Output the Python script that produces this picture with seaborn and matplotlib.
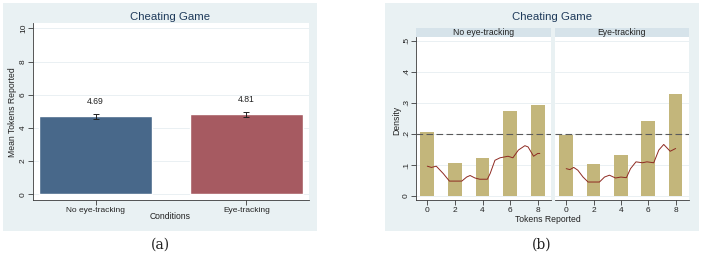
import numpy as np
import pandas as pd
import matplotlib
matplotlib.use("Agg")
import matplotlib.pyplot as plt
import seaborn as sns
from matplotlib.patches import Rectangle

sns.set_theme(style="white")
plt.rcParams['font.family'] = ['Liberation Sans', 'DejaVu Sans']

# ---------------- data ----------------
conditions = ["No eye-tracking", "Eye-tracking"]
mean_tokens = [4.69, 4.81]
mean_se = [0.14, 0.14]

tokens = [0, 2, 4, 6, 8]
density_no = [0.205, 0.105, 0.123, 0.275, 0.292]
density_eye = [0.198, 0.102, 0.131, 0.242, 0.330]
uniform_density = 0.2

curve_no_x = [0.0, 0.3, 0.65, 1.16, 1.6, 2.0, 2.5, 2.85, 3.1, 3.45, 3.8, 4.35, 4.55, 4.9, 5.27, 5.85, 6.2, 6.6, 7.07, 7.3, 7.7, 8.0, 8.15]
curve_no_y = [0.096, 0.092, 0.096, 0.072, 0.048, 0.048, 0.048, 0.061, 0.066, 0.058, 0.054, 0.054, 0.072, 0.115, 0.123, 0.128, 0.123, 0.148, 0.162, 0.158, 0.128, 0.137, 0.137]
curve_eye_x = [0.0, 0.27, 0.55, 0.85, 1.23, 1.6, 1.95, 2.43, 2.8, 3.16, 3.6, 4.0, 4.4, 4.7, 5.1, 5.57, 5.9, 6.4, 6.77, 7.13, 7.6, 8.0]
curve_eye_y = [0.088, 0.085, 0.092, 0.083, 0.061, 0.045, 0.045, 0.045, 0.061, 0.067, 0.058, 0.061, 0.059, 0.088, 0.110, 0.107, 0.110, 0.107, 0.148, 0.166, 0.144, 0.153]

# ---------------- style ----------------
BG = "#E9F1F3"
STRIP = "#D6E3EA"
GRID = "#E6EEF1"
BAR_COLORS = ["#48688A", "#A65A61"]
KHAKI = "#C3B67B"
CURVE = "#8E2A22"
AXC = "#3A3A3A"

W, H = 702, 256
fig = plt.figure(figsize=(W / 100, H / 100), dpi=100)
fig.patch.set_facecolor("white")


def box(x0, y0, x1, y1):
    return [x0 / W, 1 - y1 / H, (x1 - x0) / W, (y1 - y0) / H]


def fig_rect(x0, y0, x1, y1, color):
    fig.patches.append(Rectangle((x0 / W, 1 - y1 / H), (x1 - x0) / W, (y1 - y0) / H,
                                 transform=fig.transFigure, facecolor=color,
                                 edgecolor="none", zorder=-5))


def ftext(x, y, s, **kw):
    kw.setdefault("ha", "center")
    kw.setdefault("va", "center")
    kw.setdefault("color", "#222222")
    fig.text(x / W, 1 - y / H, s, **kw)


# backgrounds
fig_rect(3, 3, 317, 231, BG)
fig_rect(385, 3, 699, 231, BG)


def style_axis(ax, left=True):
    ax.set_facecolor("white")
    for s in ["top", "right"]:
        ax.spines[s].set_visible(False)
    ax.spines["bottom"].set_color(AXC)
    ax.spines["bottom"].set_linewidth(0.6)
    if left:
        ax.spines["left"].set_color(AXC)
        ax.spines["left"].set_linewidth(0.6)
    else:
        ax.spines["left"].set_visible(False)
    ax.tick_params(axis="both", which="major", length=3.8, width=0.6, color=AXC,
                   labelsize=6, pad=1.2, labelcolor="#222222",
                   bottom=True, left=left, direction="out")
    ax.tick_params(axis="y", pad=0.6)


# ---------------- panel (a) ----------------
axa = fig.add_axes(box(33, 23, 309, 200))
dfa = pd.DataFrame({"cond": conditions, "mean": mean_tokens})
sns.barplot(data=dfa, x="cond", y="mean", hue="cond", palette=BAR_COLORS,
            width=0.75, errorbar=None, legend=False, ax=axa, saturation=1,
            zorder=2)
axa.errorbar(range(len(conditions)), mean_tokens, yerr=mean_se, fmt="none",
             ecolor="#222222", elinewidth=0.7, capsize=2, capthick=0.7, zorder=3)
for i, (m, s) in enumerate(zip(mean_tokens, mean_se)):
    axa.annotate(f"{m:.2f}", (i, m + s), xytext=(0, 9), textcoords="offset points",
                 ha="center", va="center", fontsize=6.2, color="#222222")
axa.set_ylim(-0.343, 10.32)
axa.set_xlim(-0.414, 1.414)
axa.set_yticks(range(0, 11, 2))
axa.set_yticklabels([str(v) for v in range(0, 11, 2)], rotation=90, va="center")
axa.yaxis.grid(True, color=GRID, linewidth=0.6, zorder=0)
axa.set_axisbelow(True)
style_axis(axa)
axa.set_xlabel("")
axa.set_ylabel("")
ftext(170, 216.5, "Conditions", fontsize=6.2)
ftext(13, 112, "Mean Tokens Reported", rotation=90, fontsize=6.2)
ftext(170, 17, "Cheating Game", fontsize=8.2, color="#1E3A5A")
ftext(160, 245, "(a)", fontsize=10, family="DejaVu Serif")

# ---------------- panel (b) ----------------
panels = [
    ("No eye-tracking", density_no, curve_no_x, curve_no_y, 416, 550.7, True),
    ("Eye-tracking", density_eye, curve_eye_x, curve_eye_y, 555, 688.5, False),
]
for title, dens, cx, cy, x0, x1, first in panels:
    ax = fig.add_axes(box(x0, 37, x1, 200))
    dfb = pd.DataFrame({"tokens": tokens, "density": dens})
    sns.barplot(data=dfb, x="tokens", y="density", native_scale=True,
                color=KHAKI, saturation=1, width=0.5, errorbar=None, ax=ax,
                zorder=2)
    for p in ax.patches:
        p.set_edgecolor(KHAKI)
        p.set_linewidth(0)
    ax.axhline(uniform_density, color="#5A5A5A", linewidth=0.8,
               dashes=(6, 3), zorder=3)
    sns.lineplot(x=cx, y=cy, sort=False, color=CURVE, linewidth=0.7, ax=ax,
                 zorder=4)
    ax.set_xlim(-0.82, 8.94)
    ax.set_ylim(-0.0129, 0.512)
    ax.set_xticks(tokens)
    ax.set_xticklabels([str(t) for t in tokens])
    yt = [0, 0.1, 0.2, 0.3, 0.4, 0.5]
    ax.set_yticks(yt)
    ax.set_yticklabels(["0", ".1", ".2", ".3", ".4", ".5"], rotation=90, va="center")
    ax.yaxis.grid(True, color=GRID, linewidth=0.6, zorder=0)
    ax.set_axisbelow(True)
    style_axis(ax, left=first)
    if not first:
        ax.tick_params(axis="y", left=False, labelleft=False)
    ax.set_xlabel("")
    ax.set_ylabel("")
    # strip
    fig_rect(x0, 27.5, x1, 37, STRIP)
    ftext((x0 + x1) / 2, 32.3, title, fontsize=6.2)

ftext(397, 120, "Density", rotation=90, fontsize=6.2)
ftext(548, 219, "Tokens Reported", fontsize=6.2)
ftext(552, 17, "Cheating Game", fontsize=8.2, color="#1E3A5A")
ftext(542, 245, "(b)", fontsize=10, family="DejaVu Serif")

fig.savefig("out.png", dpi=100)
